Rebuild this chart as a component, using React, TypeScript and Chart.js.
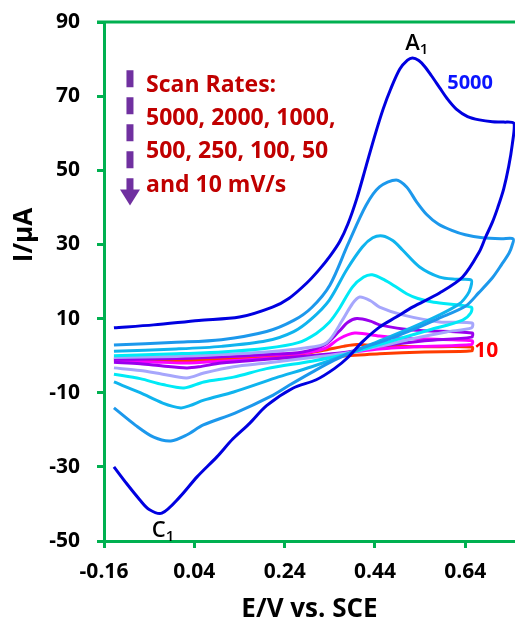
import React, { useEffect, useRef } from 'react';
import { Chart, registerables } from 'chart.js';

Chart.register(...registerables);

// Axis ticks
const xTickValues = [-0.16, 0.04, 0.24, 0.44, 0.64];
const yTickValues = [-50, -30, -10, 10, 30, 50, 70, 90];

// Scan rates (mV/s)
const scanRates = ['5000', '2000', '1000', '500', '250', '100', '50', '10'];

// E (V vs SCE) and I (µA) for each scan rate: forward sweep followed by reverse sweep
const e5000 = [-0.138, -0.05, 0.05, 0.14, 0.213, 0.25, 0.289, 0.315, 0.34, 0.362, 0.38, 0.4, 0.42, 0.44, 0.458, 0.475, 0.495, 0.512, 0.523, 0.537, 0.55, 0.565, 0.583, 0.6, 0.62, 0.645, 0.671, 0.7, 0.725, 0.748,
  0.744, 0.736, 0.725, 0.712, 0.7, 0.685, 0.671, 0.634, 0.583, 0.523, 0.487, 0.45, 0.412, 0.38, 0.35, 0.31, 0.258, 0.2, 0.163, 0.125, 0.09, 0.046, 0.008, -0.032, -0.06, -0.08, -0.11, -0.138];
const i5000 = [7.5, 8.3, 9.5, 10.4, 13.1, 15.5, 19.6, 23, 26.8, 30.8, 35.5, 42.5, 51, 59.5, 66.5, 72, 77.3, 79.7, 80.3, 79.6, 78, 75.5, 72.3, 69.3, 66.5, 64.5, 63.6, 63.1, 63, 62.6,
  57, 51, 45, 40, 36, 32, 28, 21.2, 16.9, 13.1, 10.4, 7.7, 3.7, -0.5, -3.5, -6.5, -8.8, -13.5, -18.2, -22.5, -27.3, -32.7, -38.1, -42.5, -41.5, -39, -34.5, -30];

const e2000 = [-0.138, 0.0, 0.1, 0.2, 0.26, 0.3, 0.34, 0.38, 0.42, 0.45, 0.487, 0.51, 0.532, 0.555, 0.58, 0.61, 0.64, 0.678, 0.72, 0.746,
  0.743, 0.737, 0.72, 0.7, 0.67, 0.64, 0.58, 0.52, 0.46, 0.41, 0.35, 0.3, 0.25, 0.209, 0.13, 0.06, 0.023, -0.012, -0.05, -0.09, -0.138];
const i2000 = [2.9, 3.6, 4.3, 6.5, 9.5, 13, 19, 30, 40.5, 45.5, 47.4, 45.5, 41.5, 38, 35.5, 33.8, 32.6, 31.8, 31.5, 31.5,
  29.5, 27.7, 24.5, 21, 17, 13.3, 10, 6.8, 4, 2, -1.2, -4.5, -8, -11, -15.5, -18.7, -21.4, -23, -22, -18.8, -14.1];

const e1000 = [-0.138, 0.0, 0.1, 0.2, 0.26, 0.3, 0.339, 0.377, 0.412, 0.435, 0.457, 0.48, 0.501, 0.538, 0.583, 0.62, 0.653,
  0.652, 0.645, 0.627, 0.583, 0.52, 0.45, 0.38, 0.3, 0.22, 0.127, 0.061, 0.03, 0.01, -0.03, -0.08, -0.138];
const i1000 = [1.2, 1.8, 2.5, 4, 6.5, 10, 15, 23.1, 29.3, 31.8, 32.3, 31, 28.5, 24, 21.2, 20.6, 20.4,
  18.5, 16.5, 14, 11, 7.5, 4, 0.5, -3, -6, -9.8, -12, -13.5, -14.1, -12.8, -10, -7.1];

const e500 = [-0.138, 0.0, 0.1, 0.2, 0.27, 0.31, 0.339, 0.36, 0.39, 0.415, 0.434, 0.46, 0.487, 0.51, 0.535, 0.57, 0.653,
  0.652, 0.634, 0.56, 0.45, 0.38, 0.3, 0.2, 0.127, 0.061, 0.017, -0.03, -0.08, -0.138];
const i500 = [0, 0.5, 1, 2, 3.5, 6, 9, 12.5, 18.5, 21.2, 21.8, 20.5, 18.5, 16.7, 15.4, 14.4, 13.1,
  11.5, 9.6, 6.9, 3, 0.5, -1.5, -3.5, -5.8, -7.1, -8.7, -7.8, -6.2, -5];

const e250 = [-0.138, 0.0, 0.1, 0.2, 0.28, 0.333, 0.37, 0.39, 0.406, 0.43, 0.45, 0.501, 0.583, 0.655,
  0.654, 0.598, 0.52, 0.45, 0.38, 0.3, 0.2, 0.127, 0.061, 0.023, -0.03, -0.08, -0.138];
const i250 = [-0.5, -0.2, 0.3, 1, 2, 3.5, 10, 14, 15.8, 14.8, 13.1, 11, 9.1, 8.8,
  7.5, 6.4, 4.5, 2.5, 0.8, -0.5, -2, -3, -4.7, -6, -5, -4, -3.3];

const e100 = [-0.138, 0.0, 0.1, 0.2, 0.28, 0.33, 0.36, 0.38, 0.4, 0.43, 0.45, 0.523, 0.655,
  0.654, 0.55, 0.45, 0.38, 0.3, 0.2, 0.1, 0.05, 0.023, -0.03, -0.08, -0.138];
const i100 = [-1, -0.8, -0.3, 0.3, 1, 3, 6.5, 9, 10, 9.3, 8.3, 6.9, 6.1,
  5, 4, 2.5, 1, 0, -1, -2, -3, -3.3, -2.8, -2.2, -1.8];

const e50 = [-0.138, 0.0, 0.1, 0.2, 0.28, 0.33, 0.36, 0.395, 0.45, 0.52, 0.655,
  0.654, 0.55, 0.45, 0.38, 0.3, 0.2, 0.1, 0.02, -0.05, -0.138];
const i50 = [-0.8, -0.6, -0.3, 0.2, 0.7, 2, 4.5, 6.1, 5.3, 4.6, 4,
  3, 2.5, 1.8, 0.8, 0, -0.8, -1.5, -2, -1.7, -1.3];

const e10 = [-0.138, 0.0, 0.1, 0.2, 0.28, 0.33, 0.37, 0.4, 0.45, 0.55, 0.655,
  0.654, 0.55, 0.45, 0.38, 0.3, 0.2, 0.1, 0.0, -0.138];
const i10 = [-1, -0.8, -0.5, 0, 0.5, 1.5, 2.5, 3, 2.6, 2.4, 2.3,
  1.3, 1, 0.5, 0, -0.3, -0.8, -1.2, -1.5, -1.2];

const seriesE = [e5000, e2000, e1000, e500, e250, e100, e50, e10];
const seriesI = [i5000, i2000, i1000, i500, i250, i100, i50, i10];
const seriesColors = ['#0000e0', '#1c98ec', '#0fb4ee', '#00eaf6', '#a6a6fc', '#9a00ee', '#ff00ff', '#ff3c00'];

// Annotation text
const legendLines = ['Scan Rates:', '5000, 2000, 1000,', '500, 250, 100, 50', 'and 10 mV/s'];
const legendLineY = [73, 64, 55, 46];
const legendX = -0.067;
const arrowX = -0.1025;
const arrowTop = 77;
const arrowTip = 40.5;

const GREEN = '#00b050';
const FONT = "'Open Sans', 'DejaVu Sans', sans-serif";

const annotations = {
  id: 'cvAnnotations',
  afterDatasetsDraw(chart: any) {
    const { ctx, chartArea, scales } = chart;
    const xs = scales.x;
    const ys = scales.y;
    ctx.save();
    // top frame line
    ctx.strokeStyle = GREEN;
    ctx.lineWidth = 3;
    ctx.beginPath();
    ctx.moveTo(chartArea.left - 7, chartArea.top);
    ctx.lineTo(chartArea.right, chartArea.top);
    ctx.stroke();

    // y title
    ctx.save();
    ctx.translate(25, 235);
    ctx.rotate(-Math.PI / 2);
    ctx.fillStyle = '#000';
    ctx.font = `bold 26px ${FONT}`;
    ctx.textAlign = 'center';
    ctx.textBaseline = 'middle';
    ctx.fillText('I/\u03BCA', 0, 0);
    ctx.restore();

    // legend text
    ctx.fillStyle = '#c00000';
    ctx.font = `bold 23px ${FONT}`;
    ctx.textAlign = 'left';
    ctx.textBaseline = 'middle';
    legendLines.forEach((t, k) => {
      ctx.fillText(t, xs.getPixelForValue(legendX), ys.getPixelForValue(legendLineY[k]));
    });

    // dashed arrow
    const ax = xs.getPixelForValue(arrowX);
    const aTop = ys.getPixelForValue(arrowTop);
    const aTip = ys.getPixelForValue(arrowTip);
    ctx.strokeStyle = '#7030a0';
    ctx.fillStyle = '#7030a0';
    ctx.lineWidth = 7;
    ctx.setLineDash([17, 10]);
    ctx.beginPath();
    ctx.moveTo(ax, aTop);
    ctx.lineTo(ax, aTip - 14);
    ctx.stroke();
    ctx.setLineDash([]);
    ctx.beginPath();
    ctx.moveTo(ax - 10, aTip - 16);
    ctx.lineTo(ax + 10, aTip - 16);
    ctx.lineTo(ax, aTip);
    ctx.closePath();
    ctx.fill();

    // A1 and C1
    ctx.fillStyle = '#000';
    ctx.textBaseline = 'alphabetic';
    const drawSub = (main: string, sub: string, xv: number, yv: number) => {
      const px = xs.getPixelForValue(xv);
      const py = ys.getPixelForValue(yv);
      ctx.font = `600 22px ${FONT}`;
      ctx.textAlign = 'left';
      ctx.fillText(main, px, py);
      const w = ctx.measureText(main).width;
      ctx.font = `600 15px ${FONT}`;
      ctx.fillText(sub, px + w, py + 4);
    };
    drawSub('A', '1', 0.507, 82.5);
    drawSub('C', '1', -0.054, -48.9);

    // rate labels
    ctx.font = `bold 20px ${FONT}`;
    ctx.textBaseline = 'middle';
    ctx.fillStyle = '#0a14ff';
    ctx.fillText('5000', xs.getPixelForValue(0.6), ys.getPixelForValue(73.5));
    ctx.fillStyle = '#ff0000';
    ctx.font = `bold 21px ${FONT}`;
    ctx.fillText('10', xs.getPixelForValue(0.66), ys.getPixelForValue(1.3));
    ctx.restore();
  },
};

export default function App() {
  const canvasRef = useRef<HTMLCanvasElement | null>(null);

  useEffect(() => {
    const canvas = canvasRef.current;
    if (!canvas) return;
    const datasets = scanRates.map((rate, s) => ({
      label: rate + ' mV/s',
      data: seriesE[s].map((e, k) => ({ x: e, y: seriesI[s][k] })),
      borderColor: seriesColors[s],
      backgroundColor: seriesColors[s],
      showLine: true,
      fill: false,
      borderWidth: 3,
      pointRadius: 0,
      tension: 0.3,
    }));
    const chart = new Chart(canvas, {
      type: 'scatter',
      data: { datasets },
      options: {
        animation: false,
        responsive: false,
        maintainAspectRatio: false,
        layout: { padding: { top: 22, right: 0, left: 0, bottom: 0 } },
        plugins: { legend: { display: false }, tooltip: { enabled: false } },
        scales: {
          x: {
            type: 'linear',
            min: -0.16,
            max: 0.75,
            afterBuildTicks: (s: any) => { s.ticks = xTickValues.map((v) => ({ value: v })); },
            afterFit: (s: any) => { s.height = 87; s.paddingLeft = 0; s.paddingRight = 0; },
            grid: { drawOnChartArea: false, drawTicks: true, tickLength: 7, color: GREEN, lineWidth: 3 },
            border: { display: true, color: GREEN, width: 3 },
            ticks: {
              color: '#000',
              font: { family: FONT, size: 21, weight: 'bold' },
              padding: 11,
              maxRotation: 0,
              autoSkip: false,
              callback: (v: any) => Number(v).toFixed(2),
            },
            title: {
              display: true,
              text: 'E/V vs. SCE',
              color: '#000',
              font: { family: FONT, size: 26, weight: 'bold' },
              padding: { top: 0, bottom: 3 },
            },
          },
          y: {
            type: 'linear',
            min: -50,
            max: 90,
            afterBuildTicks: (s: any) => { s.ticks = yTickValues.map((v) => ({ value: v })); },
            afterFit: (s: any) => { s.width = 104; s.paddingTop = 0; s.paddingBottom = 0; },
            grid: { drawOnChartArea: false, drawTicks: true, tickLength: 7, color: GREEN, lineWidth: 3 },
            border: { display: true, color: GREEN, width: 3 },
            ticks: {
              color: '#000',
              font: { family: FONT, size: 21, weight: 'bold' },
              padding: 17,
              autoSkip: false,
              callback: (v: any) => String(v),
            },
          },
        },
      },
      plugins: [annotations],
    } as any);
    return () => chart.destroy();
  }, []);

  return (
    <div style={{ position: 'fixed', left: 0, top: 0, width: 515, height: 628, background: '#fff' }}>
      <canvas ref={canvasRef} width={515} height={628} style={{ display: 'block' }} />
    </div>
  );
}
